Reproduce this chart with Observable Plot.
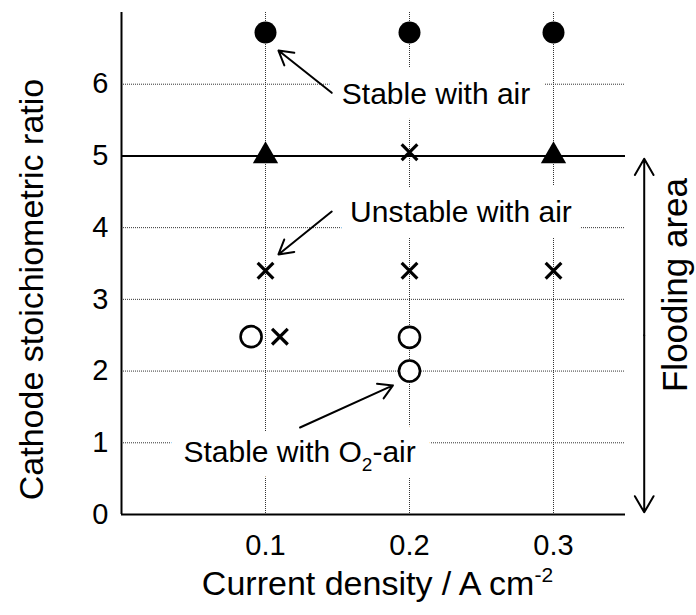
<!DOCTYPE html>
<html>
<head>
<meta charset="utf-8">
<script src="https://cdn.jsdelivr.net/npm/d3@7"></script>
<script src="https://cdn.jsdelivr.net/npm/@observablehq/plot@0.6"></script>
<style>
  html, body { margin: 0; padding: 0; background: #fff; }
  #chart { width: 696px; height: 615px; }
</style>
</head>
<body>
<div id="chart"></div>
<script>
// ---- data ----
const xTicks = [0.1, 0.2, 0.3];
const yTicks = [0, 1, 2, 3, 4, 5, 6];
const yGrid = [1, 2, 3, 4, 6];
const floodingLimit = [5];

// stable with air (filled circles)
const xStableAir = [0.1, 0.2, 0.3];
const yStableAir = [6.72, 6.72, 6.72];
// limit points (filled triangles)
const xLimit = [0.1, 0.3];
const yLimit = [5, 5];
// unstable with air (crosses)
const xUnstable = [0.2, 0.1, 0.2, 0.3, 0.11];
const yUnstable = [5.05, 3.4, 3.4, 3.4, 2.48];
// stable with O2-air (open circles)
const xStableO2 = [0.09, 0.2, 0.2];
const yStableO2 = [2.48, 2.47, 2.0];

// annotations
const labels = ["Stable with air", "Unstable with air", "Stable with O2-air"];
const labelX = [0.153, 0.1587, 0.043];
const labelY = [5.865, 4.206, 0.865];
const arrowX1 = [0.146, 0.146, 0.124];
const arrowY1 = [5.88, 4.225, 1.213];
const arrowX2 = [0.109, 0.109, 0.1885];
const arrowY2 = [6.47, 3.626, 1.80];

const floodLabel = "Flooding area";
const floodX = 0.363;
const floodMid = 2.5;
const floodEnds = [4.96, 0.03];
const floodLabelX = 0.385;
const floodLabelY = 3.2;

const xLabel = "Current density / A cm-2";
const yLabel = "Cathode stoichiometric ratio";

// ---- build tables ----
const stableAir = xStableAir.map((x, i) => ({x, y: yStableAir[i]}));
const limitPts = xLimit.map((x, i) => ({x, y: yLimit[i]}));
const unstable = xUnstable.map((x, i) => ({x, y: yUnstable[i]}));
const stableO2 = xStableO2.map((x, i) => ({x, y: yStableO2[i]}));
const notes = labels.map((t, i) => ({t, x: labelX[i], y: labelY[i]}));
const arrows = arrowX1.map((x1, i) => ({x1, y1: arrowY1[i], x2: arrowX2[i], y2: arrowY2[i]}));
const floodArrows = floodEnds.map(e => ({x1: floodX, y1: floodMid, x2: floodX, y2: e}));

const FONT = "'Liberation Sans', Arial, Helvetica, sans-serif";

const chart = Plot.plot({
  width: 696,
  height: 615,
  marginLeft: 121,
  marginRight: 71,
  marginTop: 12,
  marginBottom: 101,
  style: {fontFamily: FONT, background: "#fff", color: "#000", overflow: "visible"},
  x: {domain: [0, 0.35]},
  y: {domain: [0, 7]},
  marks: [
    Plot.gridX(xTicks, {stroke: "#333", strokeOpacity: 1, strokeWidth: 1, strokeDasharray: "1,1"}),
    Plot.gridY(yGrid, {stroke: "#333", strokeOpacity: 1, strokeWidth: 1, strokeDasharray: "1,1"}),
    // white halos behind annotation labels
    Plot.text(notes, {x: "x", y: "y", text: "t", textAnchor: "start", fontSize: 30,
      fill: "white", stroke: "white", strokeWidth: 30, strokeLinejoin: "round"}),
    Plot.ruleY(floodingLimit, {stroke: "black", strokeWidth: 2}),
    Plot.ruleY([0], {stroke: "black", strokeWidth: 2}),
    Plot.ruleX([0], {stroke: "black", strokeWidth: 2}),
    Plot.axisX(xTicks, {tickSize: 0, tickPadding: 20, fontSize: 29, label: null,
      tickFormat: d => d.toFixed(1)}),
    Plot.axisY(yTicks, {tickSize: 0, tickPadding: 13, fontSize: 29, label: null,
      tickFormat: d => String(d)}),
    Plot.arrow(arrows, {x1: "x1", y1: "y1", x2: "x2", y2: "y2", stroke: "black",
      strokeWidth: 2, headLength: 12}),
    Plot.arrow(floodArrows, {x1: "x1", y1: "y1", x2: "x2", y2: "y2", stroke: "black",
      strokeWidth: 2, headLength: 14}),
    Plot.text(notes, {x: "x", y: "y", text: "t", textAnchor: "start", fontSize: 30, fill: "black"}),
    Plot.text([floodLabel], {x: () => floodLabelX, y: () => floodLabelY, text: d => d,
      rotate: -90, fontSize: 35, fill: "black"}),
    Plot.text([xLabel], {frameAnchor: "bottom", textAnchor: "middle", dx: 4, dy: 80,
      text: d => d, fontSize: 34, fill: "black"}),
    Plot.text([yLabel], {frameAnchor: "left", textAnchor: "middle", dx: -89, dy: 26, rotate: -90,
      text: d => d, fontSize: 34, fill: "black"}),
    Plot.dot(stableO2, {x: "x", y: "y", r: 10.5, fill: "white", stroke: "black", strokeWidth: 2.6}),
    Plot.dot(unstable, {x: "x", y: "y", symbol: "times", r: 7.2, stroke: "black", strokeWidth: 3.2}),
    Plot.dot(limitPts, {x: "x", y: "y", symbol: "triangle", r: 9.4, fill: "black"}),
    Plot.dot(stableAir, {x: "x", y: "y", r: 11, fill: "black"})
  ]
});

// subscript / superscript as real text
const NS = "http://www.w3.org/2000/svg";
function rebuild(el, parts) {
  while (el.firstChild) el.removeChild(el.firstChild);
  for (const p of parts) {
    const ts = document.createElementNS(NS, "tspan");
    ts.textContent = p.t;
    if (p.dy) ts.setAttribute("dy", p.dy);
    if (p.size) ts.setAttribute("font-size", p.size);
    el.appendChild(ts);
  }
}
chart.querySelectorAll("text").forEach(el => {
  const s = el.textContent;
  if (s === "Stable with O2-air") {
    rebuild(el, [{t: "Stable with O"}, {t: "2", dy: 9, size: 19}, {t: "-air", dy: -9}]);
  } else if (s === xLabel) {
    rebuild(el, [{t: "Current density / A cm"}, {t: "-2", dy: -13, size: 21}]);
  }
});

document.getElementById("chart").appendChild(chart);
</script>
</body>
</html>
